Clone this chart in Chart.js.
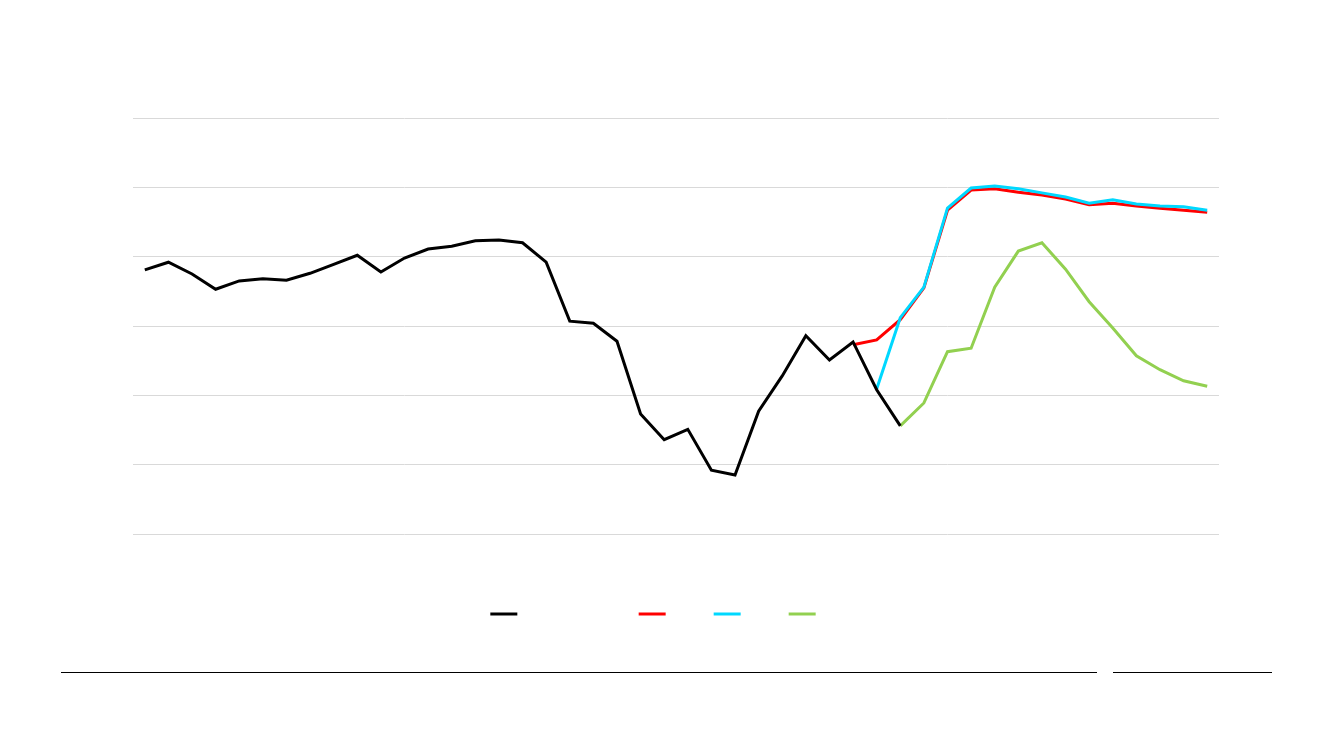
<!DOCTYPE html>
<html>
<head>
<meta charset="utf-8">
<script src="https://cdn.jsdelivr.net/npm/chart.js@4.4.3/dist/chart.umd.min.js"></script>
<style>
  html, body { margin: 0; padding: 0; background: #fff; }
  #wrap { position: relative; width: 1333px; height: 750px; }
  .rule { position: absolute; top: 672px; height: 0; border-top: 1px solid #000; }
</style>
</head>
<body>
<div id="wrap">
  <canvas id="chart"></canvas>
  <div class="rule" style="left:61px;width:1036px"></div>
  <div class="rule" style="left:1113px;width:159px"></div>
</div>
<script>
// categories (no visible labels in the picture)
const categories = [
  "1", "2", "3", "4", "5", "6", "7", "8", "9", "10",
  "11", "12", "13", "14", "15", "16", "17", "18", "19", "20",
  "21", "22", "23", "24", "25", "26", "27", "28", "29", "30",
  "31", "32", "33", "34", "35", "36", "37", "38", "39", "40",
  "41", "42", "43", "44", "45", "46"
];

// history, black
const actual = [
  3.81, 3.92, 3.75, 3.53, 3.65, 3.68, 3.66, 3.76, 3.89, 4.02,
  3.78, 3.98, 4.11, 4.15, 4.23, 4.24, 4.20, 3.92, 3.07, 3.04,
  2.78, 1.73, 1.36, 1.51, 0.92, 0.85, 1.77, 2.28, 2.86, 2.51,
  2.77, 2.08, 1.56, null, null, null, null, null, null, null,
  null, null, null, null, null, null
];

// red
const seriesRed = [
  null, null, null, null, null, null, null, null, null, null,
  null, null, null, null, null, null, null, null, null, null,
  null, null, null, null, null, null, null, null, null, null,
  2.73, 2.80, 3.09, 3.55, 4.67, 4.96, 4.98, 4.93, 4.89, 4.83,
  4.75, 4.77, 4.73, 4.70, 4.67, 4.64
];

// cyan
const seriesCyan = [
  null, null, null, null, null, null, null, null, null, null,
  null, null, null, null, null, null, null, null, null, null,
  null, null, null, null, null, null, null, null, null, null,
  null, 2.09, 3.12, 3.56, 4.70, 4.99, 5.02, 4.98, 4.92, 4.86,
  4.77, 4.82, 4.76, 4.73, 4.72, 4.67
];

// green
const seriesGreen = [
  null, null, null, null, null, null, null, null, null, null,
  null, null, null, null, null, null, null, null, null, null,
  null, null, null, null, null, null, null, null, null, null,
  null, null, 1.56, 1.89, 2.63, 2.68, 3.56, 4.08, 4.20, 3.82,
  3.35, 2.97, 2.57, 2.37, 2.21, 2.13
];

const yMin = 0;
const yMax = 6;
const yStep = 1;

// legend spacing: black entry carries a wider (blank) label in the source
const legendGaps = ["                      ", "", "", "            "];

function lineSet(label, data, color, order) {
  return {
    label: label,
    data: data,
    borderColor: color,
    backgroundColor: color,
    borderWidth: 3,
    pointRadius: 0,
    pointHoverRadius: 0,
    tension: 0,
    spanGaps: false,
    fill: false,
    order: order, // lower order is drawn on top
  };
}

const ctx = document.getElementById("chart").getContext("2d");
new Chart(ctx, {
  type: "line",
  data: {
    labels: categories,
    datasets: [
      lineSet("Actual", actual, "#000000", 1),
      lineSet("Red", seriesRed, "#ff0000", 3),
      lineSet("Cyan", seriesCyan, "#00d8ff", 2),
      lineSet("Green", seriesGreen, "#92d050", 4),
    ],
  },
  options: {
    responsive: true,
    maintainAspectRatio: false,
    animation: false,
    layout: { padding: { left: 133, right: 114, top: 118, bottom: 120 } },
    scales: {
      x: {
        offset: true,
        grid: { display: false },
        border: { display: false },
        ticks: { display: false },
        afterFit: (s) => { s.height = 32; },
      },
      y: {
        min: yMin,
        max: yMax,
        ticks: { display: false, stepSize: yStep },
        grid: { color: "#d9d9d9", lineWidth: 1, drawTicks: false },
        border: { display: false },
        afterFit: (s) => { s.width = 0; },
      },
    },
    plugins: {
      tooltip: { enabled: false },
      legend: {
        position: "bottom",
        labels: {
          boxWidth: 27,
          boxHeight: 3,
          padding: 42,
          font: { size: 12, family: "Liberation Sans" },
          generateLabels: (chart) =>
            chart.data.datasets.map((ds, i) => ({
              text: legendGaps[i],
              fillStyle: ds.borderColor,
              strokeStyle: ds.borderColor,
              lineWidth: 0,
              hidden: false,
              datasetIndex: i,
            })),
        },
      },
    },
  },
});
</script>
</body>
</html>
